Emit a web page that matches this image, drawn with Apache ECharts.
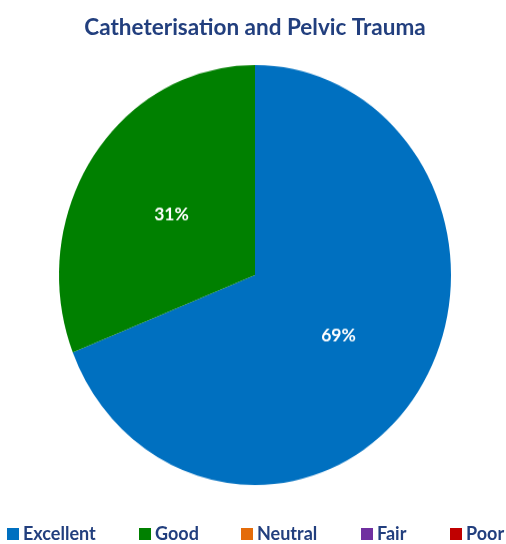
<!DOCTYPE html>
<html>
<head>
<meta charset="utf-8">
<script src="https://cdn.jsdelivr.net/npm/echarts@6/dist/echarts.min.js"></script>
<style>
  html, body { margin: 0; padding: 0; background: #ffffff; }
  #wrap { position: relative; width: 506px; height: 544px; overflow: hidden; }
  #pie { position: absolute; left: 0; top: 0; width: 506px; height: 544px;
         transform-origin: 255px 275px; transform: scaleY(1.0714); }
  #top { position: absolute; left: 0; top: 0; width: 506px; height: 544px; }
</style>
</head>
<body>
<div id="wrap">
  <div id="pie"></div>
  <div id="top"></div>
</div>
<script>
const titleText = 'Catheterisation and Pelvic Trauma';
const categories = ['Excellent', 'Good', 'Neutral', 'Fair', 'Poor'];
const values = [69, 31, 0, 0, 0];
const colors = ['#0070C0', '#008000', '#E46C0A', '#7030A0', '#C00000'];
const legendLeft = [7, 139, 241, 361, 450];

const navy = '#223F7E';
const font = 'Lato';

const pieData = categories.map((c, i) => ({ name: c, value: values[i], itemStyle: { color: colors[i] } }));

const pieChart = echarts.init(document.getElementById('pie'), null, { renderer: 'canvas' });
pieChart.setOption({
  animation: false,
  series: [{
    type: 'pie',
    center: [255, 275],
    radius: [0, 196],
    startAngle: 90,
    clockwise: true,
    avoidLabelOverlap: false,
    silent: true,
    itemStyle: { borderWidth: 0 },
    label: {
      show: true,
      position: 'inside',
      color: '#ffffff',
      fontFamily: font,
      fontWeight: 'bold',
      fontSize: 17.5,
      formatter: p => p.value ? Math.round(p.percent) + '%' : ''
    },
    labelLine: { show: false },
    data: pieData
  }]
});

const topChart = echarts.init(document.getElementById('top'), null, { renderer: 'canvas' });
topChart.setOption({
  animation: false,
  backgroundColor: 'transparent',
  title: {
    text: titleText,
    left: 250,
    textAlign: 'center',
    top: 10,
    textStyle: { color: navy, fontFamily: font, fontWeight: 'bold', fontSize: 22.5, lineHeight: 26 }
  },
  legend: categories.map((c, i) => ({
    data: [c],
    left: legendLeft[i],
    top: 525,
    orient: 'horizontal',
    icon: 'rect',
    itemWidth: 12,
    itemHeight: 12,
    padding: 0,
    selectedMode: false,
    textStyle: { color: navy, fontFamily: font, fontWeight: 'bold', fontSize: 18, lineHeight: 18, padding: [0, 0, 0, -1] }
  })),
  series: [{
    type: 'pie',
    center: [-200, -200],
    radius: [0, 1],
    silent: true,
    label: { show: false },
    labelLine: { show: false },
    data: pieData
  }]
});
</script>
</body>
</html>
